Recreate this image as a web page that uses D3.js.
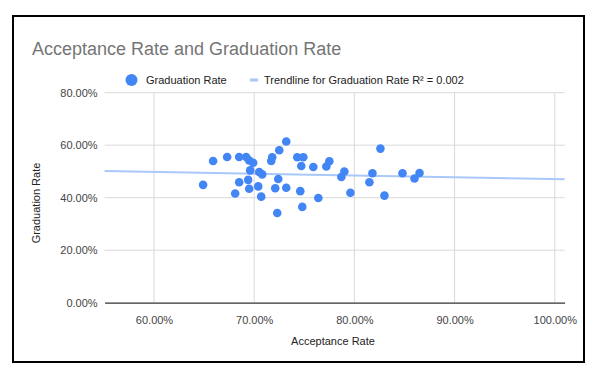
<!DOCTYPE html>
<html lang="en">
<head>
  <meta charset="UTF-8">
  <title>Acceptance Rate and Graduation Rate</title>
  <script src="https://cdn.jsdelivr.net/npm/d3@7"></script>
  <style>
    body { margin: 0; background: white; }
    text { font-family: Arial, "Liberation Sans", sans-serif; }
  </style>
</head>
<body>
  <div id="chart"></div>
  <script>
    // values (percent)
    const acceptance = [64.9, 65.9, 67.3, 68.5, 69.2, 69.5, 69.9, 69.6, 68.5, 69.4, 68.1, 69.5, 70.4, 70.7, 70.5,
      70.8, 71.7, 71.8, 72.5, 73.2, 72.4, 72.1, 73.2, 72.3, 74.3, 74.9, 74.7, 74.6, 74.8, 75.9, 76.4, 77.2,
      77.5, 78.7, 79.0, 79.6, 81.5, 81.8, 82.6, 83.0, 84.8, 86.0, 86.5]
    const graduation = [44.9, 54.0, 55.5, 55.5, 55.5, 54.2, 53.3, 50.4, 45.9, 46.8, 41.6, 43.4, 44.3, 40.4, 49.8,
      48.9, 54.0, 55.4, 58.1, 61.4, 47.1, 43.6, 43.8, 34.2, 55.4, 55.4, 52.1, 42.5, 36.5, 51.7, 39.9, 51.9,
      53.9, 47.9, 50.0, 41.9, 45.9, 49.3, 58.7, 40.8, 49.3, 47.3, 49.4]
    const xTicks = [60, 70, 80, 90, 100]
    const yTicks = [0, 20, 40, 60, 80]

    const width = 594
    const height = 377
    const blue = '#4285f4'

    const x = d3.scaleLinear().domain([55.07, 100.98]).range([104.6, 564.6])
    const y = d3.scaleLinear().domain([0, 80]).range([302.7, 92.7])
    const fmt = v => v.toFixed(2) + '%'

    const svg = d3.select('#chart').append('svg')
      .attr('width', width)
      .attr('height', height)

    svg.append('rect')
      .attr('x', 13).attr('y', 16)
      .attr('width', 571).attr('height', 346)
      .attr('fill', 'white')
      .attr('stroke', 'black')
      .attr('stroke-width', 2)

    svg.append('text')
      .attr('x', 32).attr('y', 55)
      .attr('fill', '#757575')
      .style('font-size', '18px')
      .text('Acceptance Rate and Graduation Rate')

    // legend
    svg.append('circle').attr('cx', 131.5).attr('cy', 80).attr('r', 6).attr('fill', blue)
    svg.append('text').attr('x', 146).attr('y', 84).style('font-size', '11px').attr('fill', '#222')
      .text('Graduation Rate')
    svg.append('line').attr('x1', 250).attr('x2', 258).attr('y1', 80).attr('y2', 80)
      .attr('stroke', '#a8c7fa').attr('stroke-width', 3)
    svg.append('text').attr('x', 264).attr('y', 84).style('font-size', '11px').attr('fill', '#222')
      .text('Trendline for Graduation Rate R² = 0.002')

    // gridlines
    svg.append('g').selectAll('line').data(yTicks.filter(d => d > 0)).join('line')
      .attr('x1', x.range()[0]).attr('x2', x.range()[1])
      .attr('y1', d => y(d)).attr('y2', d => y(d))
      .attr('stroke', '#d9d9d9')
    svg.append('g').selectAll('line').data(xTicks).join('line')
      .attr('x1', d => x(d)).attr('x2', d => x(d))
      .attr('y1', y(80)).attr('y2', y(0))
      .attr('stroke', '#d9d9d9')

    // axes
    const xAxis = svg.append('g')
      .attr('transform', `translate(0, ${y(0)})`)
      .call(d3.axisBottom(x).tickValues(xTicks).tickFormat(fmt).tickSize(0).tickPadding(14))
    xAxis.select('.domain').attr('stroke', '#333').attr('stroke-width', 1.2)
    const yAxis = svg.append('g')
      .attr('transform', `translate(${x.range()[0] - 7}, 0)`)
      .call(d3.axisLeft(y).tickValues(yTicks).tickFormat(fmt).tickSize(0).tickPadding(0))
    yAxis.select('.domain').remove()
    svg.selectAll('.tick text')
      .style('font-family', 'Arial, "Liberation Sans", sans-serif')
      .style('font-size', '11px')
      .attr('fill', '#444')

    svg.append('text')
      .attr('x', 333).attr('y', 345)
      .attr('text-anchor', 'middle')
      .style('font-size', '11px').attr('fill', '#222')
      .text('Acceptance Rate')
    svg.append('text')
      .attr('transform', `translate(40, 203) rotate(-90)`)
      .attr('text-anchor', 'middle')
      .style('font-size', '11px').attr('fill', '#222')
      .text('Graduation Rate')

    // linear trendline (least squares)
    const n = acceptance.length
    const mx = d3.mean(acceptance)
    const my = d3.mean(graduation)
    const sxy = d3.sum(acceptance, (v, i) => (v - mx) * (graduation[i] - my))
    const sxx = d3.sum(acceptance, v => (v - mx) * (v - mx))
    const slope = sxy / sxx
    const icpt = my - slope * mx
    const [x0, x1] = x.domain()
    svg.append('line')
      .attr('x1', x(x0)).attr('x2', x(x1))
      .attr('y1', y(icpt + slope * x0)).attr('y2', y(icpt + slope * x1))
      .attr('stroke', '#a8c7fa').attr('stroke-width', 2)

    svg.append('g').selectAll('circle').data(acceptance).join('circle')
      .attr('cx', d => x(d))
      .attr('cy', (d, i) => y(graduation[i]))
      .attr('r', 4.3)
      .attr('fill', blue)
  </script>
</body>
</html>
